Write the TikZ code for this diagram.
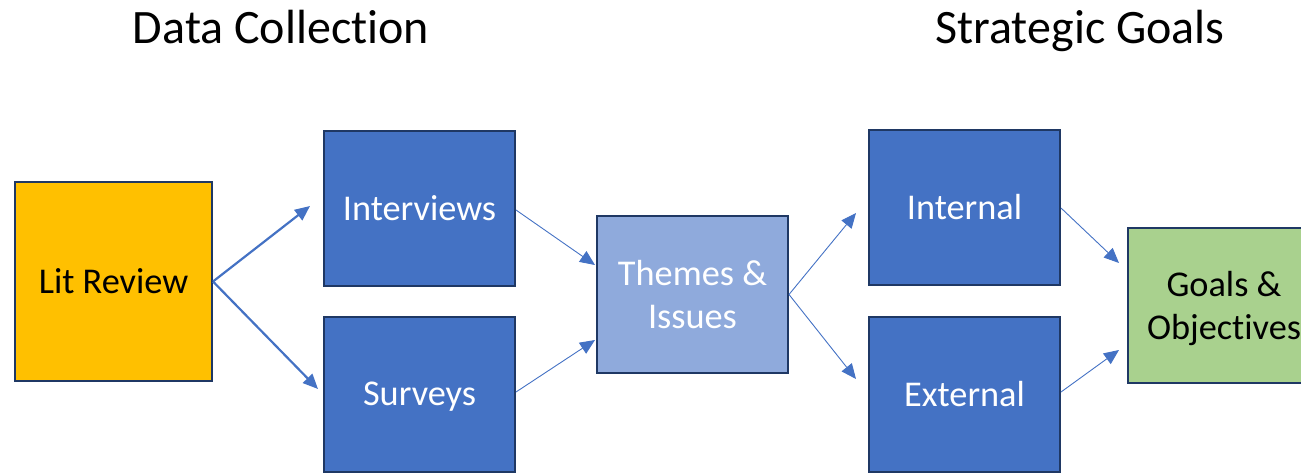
\documentclass[tikz,border=0pt]{standalone}
\usepackage{fontspec}
\setmainfont{Carlito}[Ligatures=NoCommon]
\usetikzlibrary{arrows.meta}
\definecolor{dblue}{HTML}{4472C4}
\definecolor{lblue}{HTML}{8FAADC}
\definecolor{lgreen}{HTML}{A9D18E}
\definecolor{gold}{HTML}{FFC000}
\definecolor{navy}{HTML}{1F3864}
\definecolor{arr}{HTML}{4472C4}
\tikzset{
  box/.style={draw=navy, line width=2pt, rectangle, inner sep=0pt, align=center,
    font=\fontsize{36.3}{43}\selectfont},
  bluebox/.style={box, fill=dblue, text=white, minimum width=191pt, minimum height=155pt},
  title/.style={font=\fontsize{48}{56}\selectfont, inner sep=0pt},
  thick arrow/.style={draw=arr, line width=2.2pt, -{Triangle[length=15pt,width=13pt]}},
  thin arrow/.style={draw=arr, line width=0.9pt, -{Triangle[length=15pt,width=13pt]}},
}
\begin{document}
\begin{tikzpicture}[x=1pt,y=-1pt]
\useasboundingbox (0,0) rectangle (1301,472);
\clip (0,0) rectangle (1301,472);
\node[title] (t1) at (281,27) {Data Collection};
\node[title] (t2) at (1080,31) {Strategic Goals};

\node[box, fill=gold, minimum width=197pt, minimum height=199pt] (lit) at (113.5,281.5) {\raisebox{-3pt}{Lit Review}};
\node[bluebox] (int) at (419.5,208.5) {Interviews};
\node[bluebox, text depth=-4pt] (sur) at (419.5,394) {Surveys};
\node[box, fill=lblue, text=white, minimum width=191pt, minimum height=157pt] (thm) at (692.5,294.5) {Themes \&\\Issues};
\node[bluebox] (inl) at (964.5,207.5) {Internal};
\node[bluebox] (ext) at (964.5,394) {External};
\node[box, fill=lgreen, minimum width=192pt, minimum height=155pt, text depth=-5pt] (goa) at (1224,305.5) {Goals \&\\Objectives};

\coordinate (e1) at (310,206);
\coordinate (e2) at (318,389);
\coordinate (e3) at (595,265);
\coordinate (e4) at (595,340);
\coordinate (e5) at (856,213);
\coordinate (e6) at (856,379);
\coordinate (e7) at (1119,263);
\coordinate (e8) at (1119,350);

\draw[thick arrow] (lit.east) -- (e1);
\draw[thick arrow] (lit.east) -- (e2);
\draw[thin arrow] (int.east |- 0,210) -- (e3);
\draw[thin arrow] (sur.east |- 0,392) -- (e4);
\draw[thin arrow] (thm.east) -- (e5);
\draw[thin arrow] (thm.east) -- (e6);
\draw[thin arrow] (inl.east |- 0,208) -- (e7);
\draw[thin arrow] (ext.east |- 0,392) -- (e8);
\end{tikzpicture}
\end{document}
